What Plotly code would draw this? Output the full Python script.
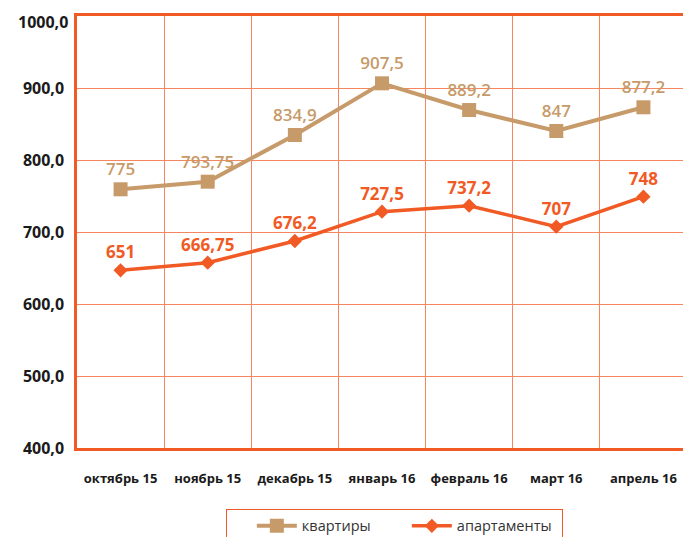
import plotly.graph_objects as go

categories = ["октябрь 15", "ноябрь 15", "декабрь 15", "январь 16", "февраль 16", "март 16", "апрель 16"]

# values as plotted
kv_values = [759.3, 769.9, 834.7, 906.5, 869.4, 840.3, 873.2]
ap_values = [646.8, 657.4, 687.5, 728.2, 736.5, 707.4, 749.0]

# data-label texts as printed on the chart
kv_labels = ["775", "793,75", "834,9", "907,5", "889,2", "847", "877,2"]
ap_labels = ["651", "666,75", "676,2", "727,5", "737,2", "707", "748"]

y_ticks = [400, 500, 600, 700, 800, 900, 1000]
y_tick_text = ["400,0", "500,0", "600,0", "700,0", "800,0", "900,0", "1000,0"]

TAN = "#C79A69"
ORANGE = "#F15A24"
GRID = "#F58660"
FONT = "Open Sans"
TICKFONT = dict(family=FONT, size=16, color="#1a1a1a", weight=700)

fig = go.Figure()
fig.add_trace(go.Scatter(
    x=categories, y=kv_values, name="квартиры", mode="lines+markers+text",
    line=dict(color=TAN, width=4),
    marker=dict(symbol="square", size=14, color=TAN),
    text=kv_labels, textposition="top center",
    textfont=dict(family=FONT, size=17, color=TAN, weight=600),
    cliponaxis=False,
))
fig.add_trace(go.Scatter(
    x=categories, y=ap_values, name="апартаменты", mode="lines+markers+text",
    line=dict(color=ORANGE, width=3.5),
    marker=dict(symbol="diamond", size=11, color=ORANGE),
    text=ap_labels, textposition="top center",
    textfont=dict(family=FONT, size=17, color=ORANGE, weight=700),
    cliponaxis=False,
))

# top tick label sits slightly below its gridline in the reference
fig.add_annotation(
    xref="paper", yref="y", x=0, y=y_ticks[-1], text=y_tick_text[-1],
    showarrow=False, xanchor="right", yanchor="middle", xshift=-7, yshift=-6,
    font=TICKFONT,
)

fig.update_layout(
    width=691, height=537,
    margin=dict(l=69, r=12, t=8, b=97, autoexpand=False),
    paper_bgcolor="white", plot_bgcolor="white",
    font=dict(family=FONT, color="#1a1a1a"),
    showlegend=True,
    legend=dict(
        orientation="h", x=0.244, xanchor="left", y=-0.141, yanchor="top",
        bordercolor=ORANGE, borderwidth=1, bgcolor="white",
        font=dict(family=FONT, size=14.5, color="#333333"),
        title=dict(text="\u2003", side="left", font=dict(size=15)),
        itemwidth=40, entrywidth=100,
    ),
    xaxis=dict(
        type="category", range=[-0.5, 6.5], tickson="boundaries",
        showgrid=True, gridcolor=GRID, gridwidth=1,
        showline=True, linecolor=ORANGE, linewidth=2.5, mirror=True,
        ticks="", ticklabelstandoff=17,
        tickfont=dict(family=FONT, size=13, color="#1a1a1a", weight=700),
        zeroline=False, fixedrange=True, automargin=False,
        ticklabeloverflow="allow",
    ),
    yaxis=dict(
        range=[400, 1000], tickvals=y_ticks,
        ticktext=y_tick_text[:-1] + [""],
        showgrid=True, gridcolor=GRID, gridwidth=1,
        showline=True, linecolor=ORANGE, linewidth=2.5, mirror=False,
        ticks="", ticklabelstandoff=7,
        tickfont=TICKFONT,
        zeroline=False, fixedrange=True, automargin=False,
        ticklabeloverflow="allow",
    ),
)

fig.write_html("out.html")
